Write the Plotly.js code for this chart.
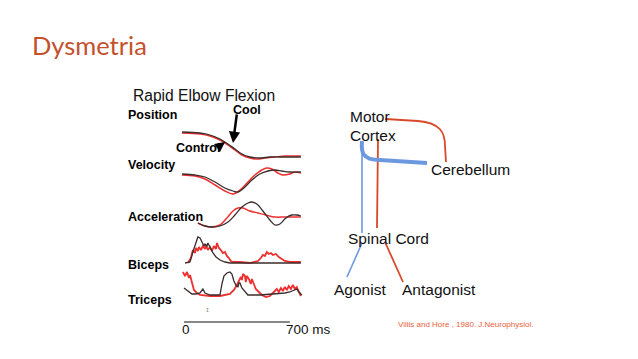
<!DOCTYPE html>
<html>
<head>
<meta charset="utf-8">
<script src="https://cdn.plot.ly/plotly-3.0.1.min.js"></script>
<style>html,body{margin:0;padding:0;background:#fff;}#chart{width:638px;height:359px;}</style>
</head>
<body>
<div id="chart"></div>
<script>
// ---- data (time in ms, amplitude in arbitrary units above each panel baseline) ----
var posControlT = [-13, 106, 172, 238, 291, 337, 383, 436, 502, 568, 634, 773];
var posControlV = [30, 29, 27, 23, 18, 13, 8, 5, 4, 5, 5, 5];
var posCoolT = [-13, 106, 172, 238, 291, 337, 383, 436, 489, 535, 601, 667, 773];
var posCoolV = [29, 28, 26, 22, 17, 12, 7, 4, 3, 4, 5, 6, 6];

var velControlT = [-13, 73, 139, 205, 271, 324, 357, 396, 449, 502, 555, 601, 647, 700, 773];
var velControlV = [24, 23, 21, 16, 10, 7, 6, 10, 18, 24, 27, 28, 27, 26, 26];
var velCoolT = [-13, 73, 139, 205, 271, 324, 370, 423, 469, 515, 548, 581, 621, 654, 700, 733, 773];
var velCoolV = [23, 22, 19, 13, 7, 4, 8, 16, 23, 28, 30, 29, 25, 23, 24, 26, 25];

var accControlT = [92, 139, 185, 238, 291, 337, 383, 423, 449, 482, 522, 568, 601, 634, 674, 713, 746, 773];
var accControlV = [7, 4, 3, 4, 8, 15, 23, 27, 28, 26, 19, 10, 5, 6, 12, 15, 15, 14];
var accCoolT = [92, 139, 185, 238, 284, 324, 357, 390, 436, 489, 542, 601, 667, 773];
var accCoolV = [7, 4, 3, 5, 12, 19, 22, 22, 19, 17, 15, 13, 13, 13];

var bicControlT = [7, 40, 59, 79, 92, 106, 119, 132, 139, 152, 158, 172, 192, 212, 238, 271, 304, 773];
var bicControlV = [3, 4, 14, 24, 29, 28, 24, 20, 22, 20, 23, 19, 13, 9, 6, 4, 3, 3];
var bicCoolT = [26, 46, 59, 73, 79, 92, 99, 112, 125, 139, 145, 158, 172, 185, 198, 211, 218, 231, 244, 258, 271, 284, 297, 310, 324, 370, 436, 489, 508, 522, 535, 548, 561, 575, 588, 608, 627, 647, 667, 700, 773];
var bicCoolV = [3, 8, 16, 13, 18, 15, 19, 16, 20, 17, 21, 16, 19, 15, 20, 17, 23, 18, 16, 13, 14, 10, 8, 5, 4, 4, 3, 5, 8, 11, 10, 14, 12, 13, 11, 12, 9, 7, 5, 4, 4];

var triControlT = [0, 26, 53, 79, 106, 125, 139, 172, 238, 251, 264, 284, 304, 317, 330, 343, 357, 363, 370, 383, 403, 423, 502, 601, 667, 700, 726, 746, 760, 779];
var triControlV = [12, 9, 6, 6, 7, 11, 7, 5, 5, 16, 24, 27, 28, 26, 19, 15, 13, 17, 17, 12, 8, 5, 5, 6, 7, 8, 10, 11, 8, 5];
var triCoolT = [-7, 7, 20, 33, 40, 53, 66, 86, 106, 172, 238, 304, 330, 350, 363, 376, 383, 390, 403, 409, 416, 429, 442, 449, 462, 475, 495, 515, 542, 568, 588, 601, 614, 627, 641, 654, 667, 680, 693, 707, 720, 733, 746, 760, 773];
var triCoolV = [28, 24, 28, 22, 25, 17, 10, 7, 5, 4, 4, 6, 10, 15, 19, 23, 20, 26, 24, 18, 24, 21, 16, 21, 16, 11, 8, 5, 3, 4, 7, 9, 11, 8, 12, 9, 13, 10, 14, 11, 15, 11, 13, 8, 4];

var panelLabels = ["Position", "Velocity", "Acceleration", "Biceps", "Triceps"];
var scaleTicks = [0, 700];
var scaleTickLabels = ["0", "700 ms"];

// ---- layout helpers ----
var W = 638, H = 359;
function X(px) { return px / W; }
function Y(py) { return 1 - py / H; }

var CONTROL = '#3b2d2d', COOL = '#ee2f2f';
var DRED = '#d8492a', DBLUE = '#6c98e0';
var F = 'Liberation Sans, Arial, sans-serif';

var series = [
  [posControlT, posControlV, posCoolT, posCoolV, 'y'],
  [velControlT, velControlV, velCoolT, velCoolV, 'y2'],
  [accControlT, accControlV, accCoolT, accCoolV, 'y3'],
  [bicControlT, bicControlV, bicCoolT, bicCoolV, 'y4'],
  [triControlT, triControlV, triCoolT, triCoolV, 'y5']
];
var traces = [];
series.forEach(function (s, i) {
  var noisy = i >= 3;
  traces.push({x: s[2], y: s[3], yaxis: s[4], xaxis: 'x', type: 'scatter', mode: 'lines',
    line: {color: COOL, width: noisy ? 1.8 : 1.5, shape: noisy ? 'linear' : 'spline'}, hoverinfo: 'skip', showlegend: false});
  traces.push({x: s[0], y: s[1], yaxis: s[4], xaxis: 'x', type: 'scatter', mode: 'lines',
    line: {color: CONTROL, width: 1.3, shape: noisy ? 'linear' : 'spline'}, hoverinfo: 'skip', showlegend: false});
});

// panel pixel boxes [top, bottom]
var boxes = [[128, 162], [164, 198], [198, 230], [232, 266], [268, 300]];
function yax(b) { return {domain: [Y(b[1]), Y(b[0])], range: [0, b[1] - b[0]], visible: false, anchor: 'x', fixedrange: true}; }

var labelY = [115, 165, 217, 265, 300];
var annotations = [];
panelLabels.forEach(function (t, i) {
  annotations.push({text: t, xref: 'paper', yref: 'paper', x: X(126), y: Y(labelY[i]), xanchor: 'left', yanchor: 'middle',
    showarrow: false, font: {family: F, size: 12.5, color: '#000', weight: 'bold'}});
});
function txt(t, px, py, size, opts) {
  var a = {text: t, xref: 'paper', yref: 'paper', x: X(px), y: Y(py), xanchor: 'left', yanchor: 'middle',
    showarrow: false, font: {family: F, size: size, color: '#111'}};
  for (var k in opts) a[k] = opts[k];
  annotations.push(a);
}
txt('Dysmetria', 30, 45, 25.5, {font: {family: 'Lato, Open Sans, sans-serif', size: 25.5, color: '#c4512d'}});
txt('Rapid Elbow Flexion', 131, 95, 15.6);
txt('<b>Cool</b>', 231, 110, 12.5, {font: {family: F, size: 12.5, color: '#000'}});
txt('<b>Control</b>', 174, 148, 12.5, {font: {family: F, size: 12.5, color: '#000'}});
txt('Motor', 348, 116, 15.5);
txt('Cortex', 348, 135, 15.5);
txt('Cerebellum', 429, 170, 15.5);
txt('Spinal Cord', 346, 238, 15.5);
txt('Agonist', 332, 289, 15.5);
txt('Antagonist', 400, 289, 15.5);
txt('Villis and Hore , 1980. J.Neurophysiol.', 396, 324, 8, {font: {family: F, size: 8, color: '#e8603c'}});
txt('ɪ', 204, 309, 8, {font: {family: F, size: 8, color: '#999'}});
// arrows
annotations.push({text: '', xref: 'paper', yref: 'paper', x: X(233), y: Y(143), ax: 4, ay: -30,
  showarrow: true, arrowhead: 2, arrowsize: 0.9, arrowwidth: 2.5, arrowcolor: '#000'});
annotations.push({text: '', xref: 'paper', yref: 'paper', x: X(225), y: Y(142), ax: -8, ay: 6,
  showarrow: true, arrowhead: 2, arrowsize: 1, arrowwidth: 2, arrowcolor: '#000'});
// time scale labels (on the time axis)
scaleTicks.forEach(function (t, i) {
  annotations.push({text: scaleTickLabels[i], xref: 'x', yref: 'paper', x: t, y: Y(329),
    xanchor: i === 0 ? 'center' : 'left', xshift: i === 0 ? 2 : -6, yanchor: 'middle', showarrow: false,
    font: {family: F, size: 13.5, color: '#111'}});
});

function P(pts) { // path from pixel coordinates
  return pts.map(function (p) {
    if (typeof p === 'string') return p;
    return X(p[0]).toFixed(5) + ',' + Y(p[1]).toFixed(5);
  }).join(' ');
}
var shapes = [
  // time scale bar
  {type: 'line', xref: 'x', yref: 'paper', x0: scaleTicks[0], x1: scaleTicks[1], y0: Y(322), y1: Y(322), line: {color: '#111', width: 1.2}},
  // red cerebellum -> cortex
  {type: 'path', xref: 'paper', yref: 'paper', path: P(['M', [385, 119], 'L', [418, 121], 'C', [440, 123], [445, 132], [445, 146], 'L', [446, 162]]), line: {color: DRED, width: 1.8}},
  // red cortex -> spinal cord
  {type: 'path', xref: 'paper', yref: 'paper', path: P(['M', [378, 139], 'L', [377, 228]]), line: {color: DRED, width: 1.8}},
  // blue thick cerebellum -> cortex
  {type: 'path', xref: 'paper', yref: 'paper', path: P(['M', [362, 141], 'C', [361, 152], [362, 160], [380, 160], 'L', [427, 163]]), line: {color: DBLUE, width: 4}},
  // blue thin down to spinal cord
  {type: 'path', xref: 'paper', yref: 'paper', path: P(['M', [362, 150], 'L', [362, 233]]), line: {color: DBLUE, width: 1.6}},
  // blue to agonist
  {type: 'path', xref: 'paper', yref: 'paper', path: P(['M', [362, 243], 'L', [347, 277]]), line: {color: DBLUE, width: 1.6}},
  // red to antagonist
  {type: 'path', xref: 'paper', yref: 'paper', path: P(['M', [385, 242], 'L', [403, 282]]), line: {color: DRED, width: 1.8}}
];

var layout = {
  width: W, height: H, margin: {l: 0, r: 0, t: 0, b: 0},
  paper_bgcolor: '#fff', plot_bgcolor: 'rgba(0,0,0,0)', showlegend: false,
  xaxis: {domain: [X(182), X(303)], range: [-13, 787], visible: false, fixedrange: true},
  yaxis: yax(boxes[0]), yaxis2: yax(boxes[1]), yaxis3: yax(boxes[2]), yaxis4: yax(boxes[3]), yaxis5: yax(boxes[4]),
  annotations: annotations, shapes: shapes
};
Plotly.newPlot('chart', traces, layout, {displayModeBar: false, staticPlot: true});
</script>
</body>
</html>
